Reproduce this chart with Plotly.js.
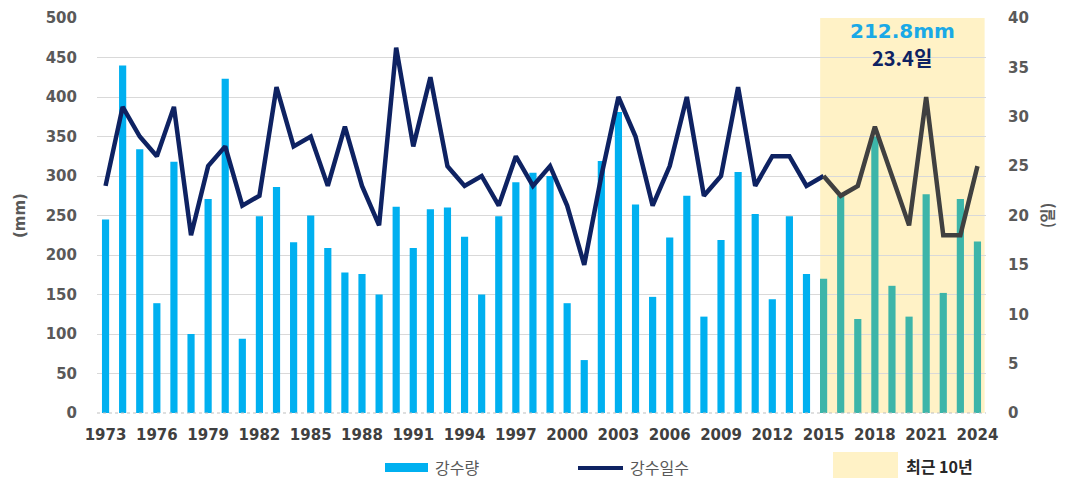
<!DOCTYPE html>
<html>
<head>
<meta charset="utf-8">
<script src="https://cdn.plot.ly/plotly-3.0.1.min.js"></script>
<style>
  html, body { margin: 0; padding: 0; background: #ffffff; }
  #chart { width: 1072px; height: 478px; }
</style>
</head>
<body>
<div id="chart"></div>
<script>
// ---- Data ----
const years = [1973,1974,1975,1976,1977,1978,1979,1980,1981,1982,1983,1984,1985,1986,1987,1988,1989,1990,1991,1992,1993,1994,1995,1996,1997,1998,1999,2000,2001,2002,2003,2004,2005,2006,2007,2008,2009,2010,2011,2012,2013,2014,2015,2016,2017,2018,2019,2020,2021,2022,2023,2024];
const precipitation = [245,440,334,139,318,100,271,423,94,249,286,216,250,209,178,176,150,261,209,258,260,223,150,249,292,304,300,139,67,319,381,264,147,222,275,122,219,305,252,144,249,176,170,275,119,350,161,122,277,152,271,217];
const rainDays = [23,31,28,26,31,18,25,27,21,22,33,27,28,23,29,23,19,37,27,34,25,23,24,21,26,23,25,21,15,24,32,28,21,25,32,22,24,33,23,26,26,23,24,22,23,29,24,19,32,18,18,25];
const recentStart = 2015;
const recentEnd = 2024;
const recentAvgMm = "212.8mm";
const recentAvgDays = "23.4일";
const leftTicks = [0,50,100,150,200,250,300,350,400,450,500];
const rightTicks = [0,5,10,15,20,25,30,35,40];
const xTicks = [1973,1976,1979,1982,1985,1988,1991,1994,1997,2000,2003,2006,2009,2012,2015,2018,2021,2024];
const labels = { bar: "강수량", line: "강수일수", recent: "최근 10년", yLeft: "(mm)", yRight: "(일)" };

// ---- Styling ----
const BLUE = "#00B0F0", TEAL = "#3DB5A9", NAVY = "#0E2262", GRAY = "#404040", YELLOW = "#FFF2C6";
const FONT = "DejaVu Sans, Noto Sans CJK KR, sans-serif";
const KFONT = "Noto Sans CJK KR, DejaVu Sans, sans-serif";

const barColors = years.map(y => (y >= recentStart ? TEAL : BLUE));
const idx = years.indexOf(recentStart);

const traces = [
  { type: "bar", x: years, y: precipitation, width: 0.42,
    marker: { color: barColors }, yaxis: "y", hoverinfo: "x+y", showlegend: false },
  { type: "scatter", mode: "lines", x: years.slice(0, idx + 1), y: rainDays.slice(0, idx + 1),
    line: { color: NAVY, width: 4.5 }, yaxis: "y2", showlegend: false },
  { type: "scatter", mode: "lines", x: years.slice(idx), y: rainDays.slice(idx),
    line: { color: GRAY, width: 4.5 }, yaxis: "y2", showlegend: false }
];

const L = 97, R = 986, T = 18, B = 413;
const px = v => (v - L) / (R - L);
const py = v => (B - v) / (B - T);

const layout = {
  width: 1072, height: 478,
  margin: { l: L, r: 1072 - R, t: T, b: 478 - B },
  paper_bgcolor: "#ffffff", plot_bgcolor: "rgba(0,0,0,0)",
  bargap: 0.5,
  xaxis: {
    range: [1972.5, 2024.5], tickmode: "array", tickvals: xTicks,
    ticks: "outside", ticklen: 8, tickcolor: "rgba(0,0,0,0)",
    showgrid: false, zeroline: false, showline: false,
    tickfont: { family: FONT, size: 15, color: "#404040", weight: "bold" }
  },
  yaxis: {
    range: [0, 500], tickmode: "array", tickvals: leftTicks,
    showgrid: true, gridcolor: "#D9D9D9", gridwidth: 1, zeroline: false, showline: false,
    ticks: "outside", ticklen: 16, tickcolor: "rgba(0,0,0,0)",
    tickfont: { family: FONT, size: 15, color: "#595959", weight: "bold" },
    title: { text: labels.yLeft, standoff: 16, font: { family: FONT, size: 15, color: "#595959", weight: "bold" } }
  },
  yaxis2: {
    range: [0, 40], tickmode: "array", tickvals: rightTicks, overlaying: "y", side: "right",
    showgrid: false, zeroline: false, showline: false,
    ticks: "outside", ticklen: 18, tickcolor: "rgba(0,0,0,0)",
    tickfont: { family: FONT, size: 15, color: "#595959", weight: "bold" },
    title: { text: labels.yRight, standoff: 14, font: { family: KFONT, size: 15, color: "#595959", weight: "bold" } }
  },
  shapes: [
    { type: "rect", xref: "x", yref: "paper", x0: recentStart - 0.2, x1: recentEnd + 0.42, y0: 0, y1: 1,
      fillcolor: YELLOW, line: { width: 0 }, layer: "below" },
    { type: "line", xref: "paper", yref: "paper", x0: 0, x1: 1, y0: 0, y1: 0,
      line: { color: "#BFBFBF", width: 1, dash: "dot" }, layer: "above" },
    // legend swatches
    { type: "rect", xref: "paper", yref: "paper", x0: px(385), x1: px(428), y0: py(472), y1: py(463),
      fillcolor: BLUE, line: { width: 0 } },
    { type: "line", xref: "paper", yref: "paper", x0: px(578), x1: px(623), y0: py(468), y1: py(468),
      line: { color: NAVY, width: 4 } },
    { type: "rect", xref: "paper", yref: "paper", x0: px(833), x1: px(898), y0: py(478), y1: py(452),
      fillcolor: YELLOW, line: { width: 0 } }
  ],
  annotations: [
    { xref: "x", yref: "paper", x: (recentStart + recentEnd) / 2 + 0.1, y: py(31), yanchor: "middle",
      text: recentAvgMm, showarrow: false,
      font: { family: FONT, size: 20, color: "#1AA9E6", weight: "bold" } },
    { xref: "x", yref: "paper", x: (recentStart + recentEnd) / 2 + 0.1, y: py(58), yanchor: "middle",
      text: recentAvgDays, showarrow: false,
      font: { family: KFONT, size: 20, color: "#0E2262", weight: "bold" } },
    { xref: "paper", yref: "paper", x: px(433), y: py(467), xanchor: "left", yanchor: "middle", text: labels.bar,
      showarrow: false, font: { family: KFONT, size: 16, color: "#595959" } },
    { xref: "paper", yref: "paper", x: px(628), y: py(467), xanchor: "left", yanchor: "middle", text: labels.line,
      showarrow: false, font: { family: KFONT, size: 16, color: "#595959" } },
    { xref: "paper", yref: "paper", x: px(904), y: py(466), xanchor: "left", yanchor: "middle", text: labels.recent,
      showarrow: false, font: { family: KFONT, size: 16, color: "#262626", weight: "bold" } }
  ]
};

Plotly.newPlot("chart", traces, layout, { displayModeBar: false, staticPlot: true });
</script>
</body>
</html>
